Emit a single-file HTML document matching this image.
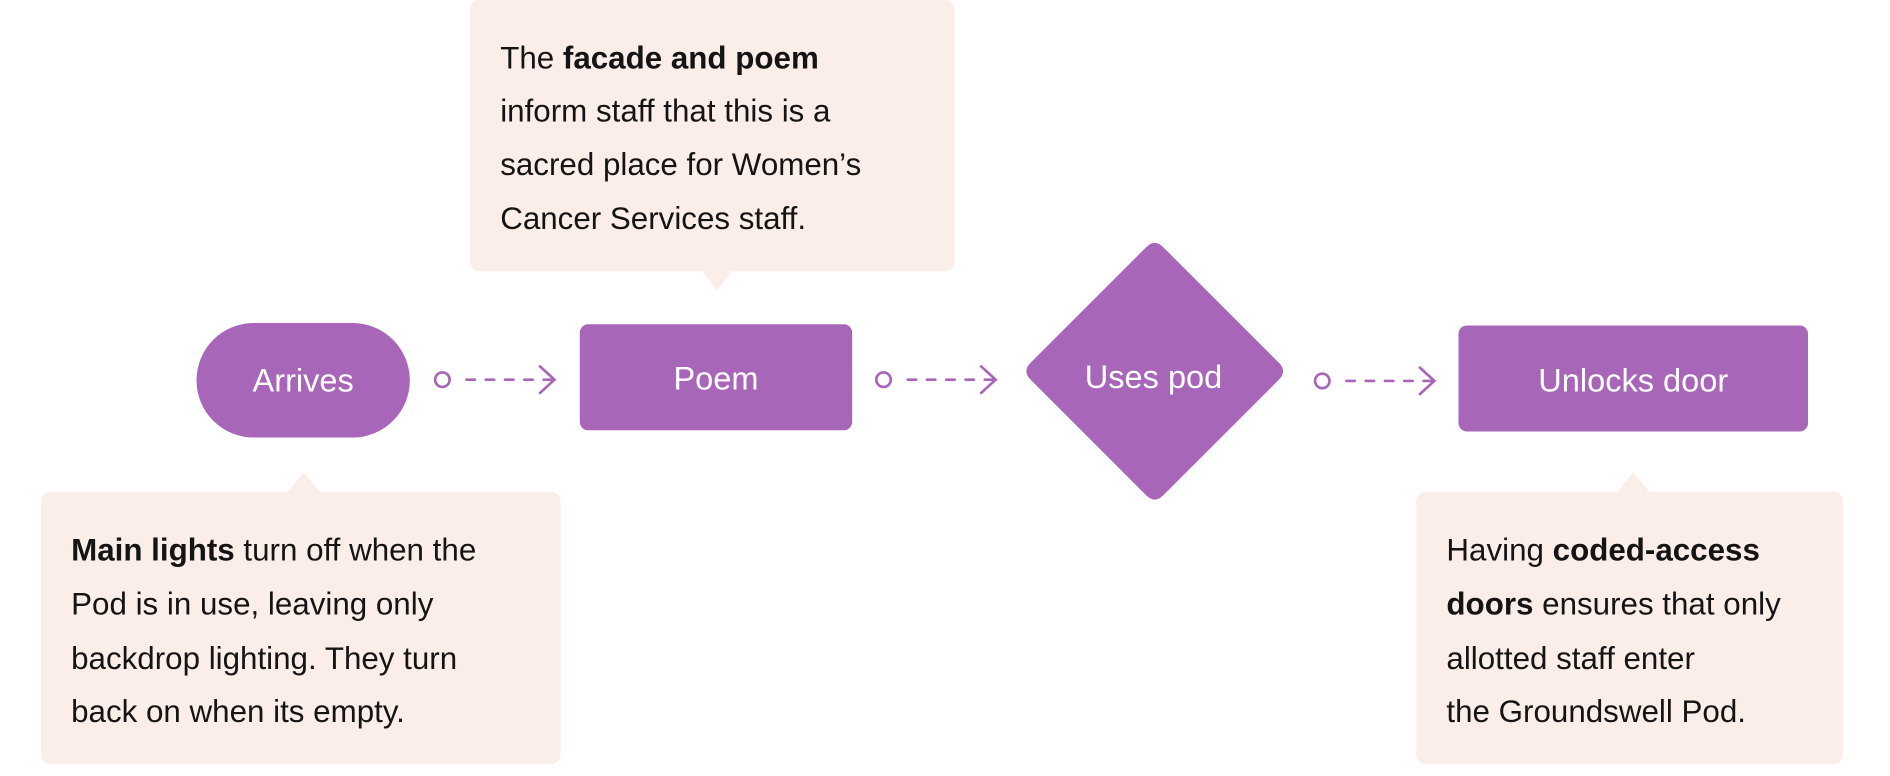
<!DOCTYPE html>
<html><head><meta charset="utf-8"><style>
html,body{margin:0;padding:0;background:#fff;width:1890px;height:776px;overflow:hidden}
svg{display:block}
text{font-family:"Liberation Sans",Arial,sans-serif}
.t{font-size:26px;fill:#141414}
.b{font-weight:bold}
.n{font-size:27px;fill:#fff}
</style></head><body>
<svg width="1890" height="776" viewBox="0 0 1568 643.8" xmlns="http://www.w3.org/2000/svg">
<!-- top callout -->
<rect x="390" y="0" width="402" height="225" rx="8" fill="#fbede8"/>
<polygon points="582,224 608,224 595,241" fill="#fbede8"/>
<text class="t" x="415" y="57">The <tspan class="b">facade and poem</tspan></text>
<text class="t" x="415" y="101">inform staff that this is a</text>
<text class="t" x="415" y="145">sacred place for Women’s</text>
<text class="t" x="415" y="190">Cancer Services staff.</text>
<!-- bottom-left callout -->
<rect x="34" y="408" width="431" height="226" rx="8" fill="#fbede8"/>
<polygon points="238,409 266,409 252,392" fill="#fbede8"/>
<text class="t b" x="59" y="465">Main lights<tspan font-weight="normal"> turn off when the</tspan></text>
<text class="t" x="59" y="510">Pod is in use, leaving only</text>
<text class="t" x="59" y="555">backdrop lighting. They turn</text>
<text class="t" x="59" y="599">back on when its empty.</text>
<!-- bottom-right callout -->
<rect x="1175" y="408" width="354" height="226" rx="8" fill="#fbede8"/>
<polygon points="1341,409 1369,409 1355,392" fill="#fbede8"/>
<text class="t" x="1200" y="465">Having <tspan class="b">coded-access</tspan></text>
<text class="t" x="1200" y="510"><tspan class="b">doors</tspan> ensures that only</text>
<text class="t" x="1200" y="555">allotted staff enter</text>
<text class="t" x="1200" y="599">the Groundswell Pod.</text>
<!-- nodes -->
<rect x="163" y="268" width="177" height="95" rx="47.5" fill="#a866b8"/>
<text class="n" x="251.5" y="325" text-anchor="middle">Arrives</text>
<rect x="481" y="269" width="226" height="88" rx="7" fill="#a866b8"/>
<text class="n" x="594" y="323" text-anchor="middle">Poem</text>
<path d="M951,205 Q958,198 965,205 L1061,301 Q1068,308 1061,315 L965,411 Q958,418 951,411 L855,315 Q848,308 855,301 Z" fill="#a866b8"/>
<text class="n" x="957" y="322" text-anchor="middle">Uses pod</text>
<rect x="1210" y="270" width="290" height="88" rx="7" fill="#a866b8"/>
<text class="n" x="1355" y="325" text-anchor="middle">Unlocks door</text>
<!-- connectors -->
<g stroke="#a866b8" stroke-width="2.2" fill="none" stroke-linecap="round">
<circle cx="367" cy="315" r="6"/><line x1="387" y1="315" x2="458" y2="315" stroke-dasharray="7,9"/><polyline points="448,304 460,315 448,326"/>
<circle cx="733" cy="315" r="6"/><line x1="753" y1="315" x2="824" y2="315" stroke-dasharray="7,9"/><polyline points="814,304 826,315 814,326"/>
<circle cx="1097" cy="316" r="6"/><line x1="1117" y1="316" x2="1188" y2="316" stroke-dasharray="7,9"/><polyline points="1178,305 1190,316 1178,327"/>
</g>
</svg>
</body></html>
